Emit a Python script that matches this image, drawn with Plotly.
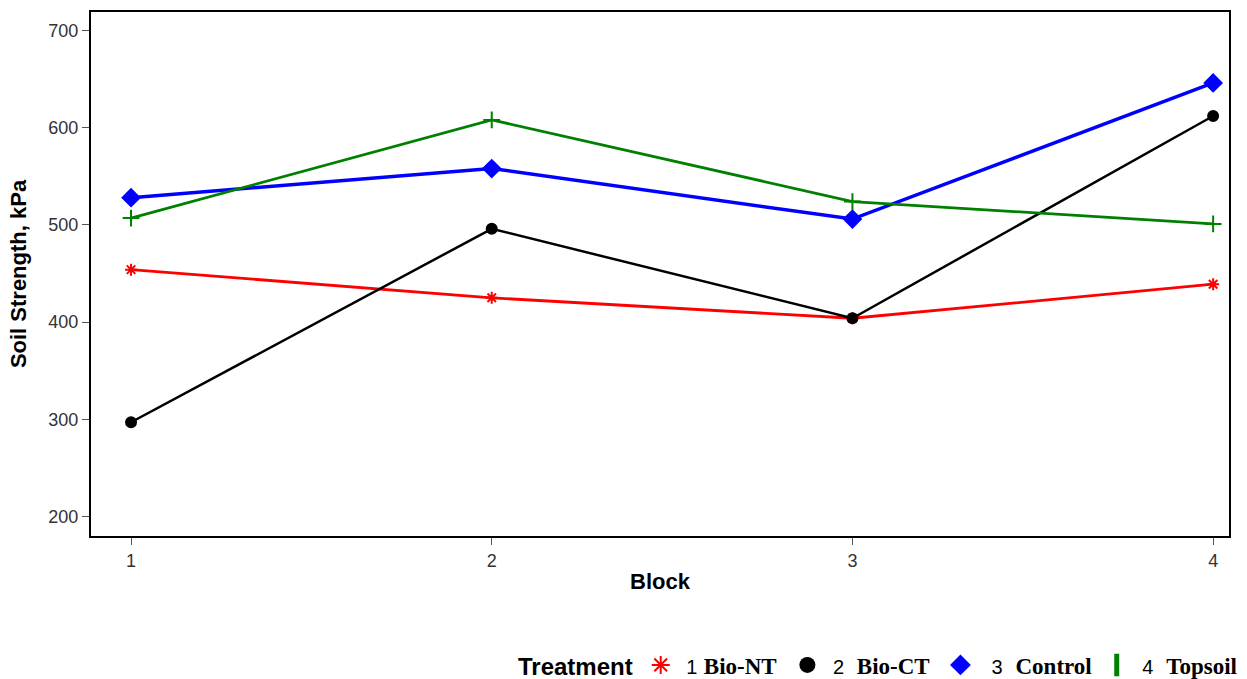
import plotly.graph_objects as go

blocks = [1, 2, 3, 4]
bio_nt = [454, 425, 404, 439]
bio_ct = [297, 496, 404, 612]
control = [528, 558, 506, 646]
topsoil = [507, 608, 524, 501]

series_nums = ["1", "2", "3", "4"]
series_names = ["Bio-NT", "Bio-CT", "Control", "Topsoil"]
y_ticks = [200, 300, 400, 500, 600, 700]

fig = go.Figure()

specs = [
    (bio_nt, "red", "asterisk-open", 10, 2.8, "asterisk-open", 15, 2, 1),
    (bio_ct, "black", "circle", 10, 2.5, "circle", 20, 0, 2),
    (control, "blue", "diamond", 13, 3.5, "diamond", 23, 0, 2),
    (topsoil, "green", "cross-thin-open", 12, 2.8, "line-ns-open", 20, 8, 2),
]

def lbl(num, txt, gap, pre, post):
    return (f"<span style='font-family:Liberation Sans;font-size:20px'>{pre}{num}</span>"
            + "&nbsp;" * gap
            + f"<span style='font-family:Liberation Serif;font-weight:bold'>{txt}{post}</span>")

pres = ["&nbsp;", "&nbsp;", "&nbsp;&nbsp;", "&nbsp;"]
posts = ["&nbsp;", "&nbsp;", "", ""]
for (vals, col, sym, sz, lw, lsym, lsz, llw, gap), num, name, pre, post in zip(
        specs, series_nums, series_names, pres, posts):
    fig.add_trace(go.Scatter(
        x=blocks, y=vals, mode="lines+markers", showlegend=False,
        line=dict(color=col, width=lw),
        marker=dict(symbol=sym, size=sz, color=col, line=dict(color=col, width=2)),
    ))
    fig.add_trace(go.Scatter(
        x=[None], y=[None], mode="markers", name=lbl(num, name, gap, pre, post),
        marker=dict(symbol=lsym, size=lsz, color=col, line=dict(color=col, width=llw)),
    ))

fig.update_layout(
    width=1247, height=679,
    paper_bgcolor="white", plot_bgcolor="white",
    margin=dict(l=91, r=18, t=10, b=143),
    font=dict(family="Liberation Sans, Arial", color="black"),
    showlegend=True,
    legend=dict(
        orientation="h", xref="container", yref="container",
        x=1242 / 1247, xanchor="right", y=(679 - 665) / 679, yanchor="middle",
        title=dict(text="<b>Treatment</b>", font=dict(size=24, family="Liberation Sans")),
        font=dict(size=23, color="black"),
        itemsizing="trace", tracegroupgap=0, itemwidth=30,
    ),
)

fig.update_xaxes(
    range=[0.889, 4.044], tickvals=blocks, ticktext=[str(b) for b in blocks],
    showgrid=False, zeroline=False, showline=True, linecolor="black", linewidth=2,
    mirror=True, ticks="outside", ticklen=7, tickcolor="#555",
    tickfont=dict(size=18, color="#333"),
    title=dict(text="<b>Block</b>", font=dict(size=22), standoff=4),
)
fig.update_yaxes(
    range=[180, 719], tickvals=y_ticks,
    showgrid=False, zeroline=False, showline=True, linecolor="black", linewidth=2,
    mirror=True, ticks="outside", ticklen=7, tickcolor="#555",
    tickfont=dict(size=18, color="#333"),
    title=dict(text="<b>Soil Strength, kPa</b>", font=dict(size=22), standoff=16),
)

fig.write_html("out.html", config={"displayModeBar": False},
               post_script="document.body.style.margin='0';")
